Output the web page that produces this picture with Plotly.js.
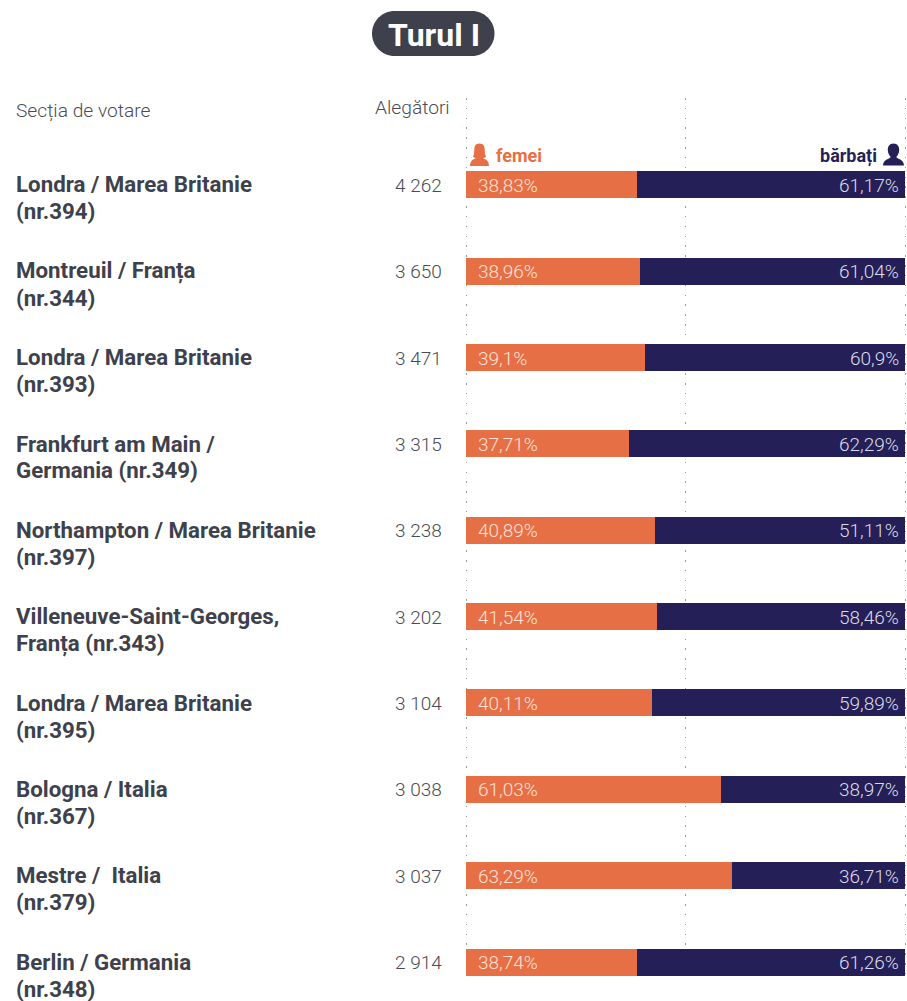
<!DOCTYPE html>
<html>
<head>
<meta charset="utf-8">
<script src="https://cdn.plot.ly/plotly-3.0.1.min.js"></script>
<style>html,body{margin:0;padding:0;background:#fff}#chart{width:907px;height:1001px}</style>
</head>
<body>
<div id="chart"></div>
<script>
const stationLine1 = [
  "Londra / Marea Britanie",
  "Montreuil / Franța",
  "Londra / Marea Britanie",
  "Frankfurt am Main /",
  "Northampton / Marea Britanie",
  "Villeneuve-Saint-Georges,",
  "Londra / Marea Britanie",
  "Bologna / Italia",
  "Mestre /  Italia",
  "Berlin / Germania"
];
const stationLine2 = ["(nr.394)","(nr.344)","(nr.393)","Germania (nr.349)","(nr.397)","Franța (nr.343)","(nr.395)","(nr.367)","(nr.379)","(nr.348)"];
const voters = ["4 262","3 650","3 471","3 315","3 238","3 202","3 104","3 038","3 037","2 914"];
const femeiLabels = ["38,83%","38,96%","39,1%","37,71%","40,89%","41,54%","40,11%","61,03%","63,29%","38,74%"];
const barbatiLabels = ["61,17%","61,04%","60,9%","62,29%","51,11%","58,46%","59,89%","38,97%","36,71%","61,26%"];
// bar lengths as drawn in the picture (they differ from the printed labels)
const femeiBars = [38.9,39.6,40.7,37.0,43.0,43.4,42.3,58.0,60.5,38.9];
const barbatiBars = [61.1,60.4,59.3,63.0,57.0,56.6,57.7,42.0,39.5,61.1];

const stations = stationLine1.map((a, i) => a + " " + stationLine2[i]);
const W = 907, H = 1001;
const ORANGE = "#e76f45", NAVY = "#241f57", INK = "#3e414c", SOFT = "#4a4c55";
const FONT = "Roboto, Arial, sans-serif";
const px = x => x / W, py = y => 1 - y / H;
const barLeft = 466.4, barRight = 905.4, plotTop = 98, plotBottom = 976;
const firstRow = 184.7, rowStep = 86.38;
const edgeL = 2, edgeR = 1.5;   // keeps the 0 and 100 gridlines inside the plot area
const unitsPerPx = 100 / (barRight - barLeft);

function pathOf(segs) {
  return segs.map(s => s[0] + s.slice(1).reduce((acc, v, i, a) => {
    if (i % 2) return acc;
    acc.push(px(v).toFixed(5) + "," + py(a[i + 1]).toFixed(5));
    return acc;
  }, []).join(" ")).join(" ");
}

const pill = (x0, y0, x1, y1) => {
  const r = (y1 - y0) / 2, k = r * 0.5523;
  return pathOf([
    ["M", x0 + r, y0], ["L", x1 - r, y0],
    ["C", x1 - r + k, y0, x1, y0 + r - k, x1, y0 + r],
    ["C", x1, y0 + r + k, x1 - r + k, y1, x1 - r, y1],
    ["L", x0 + r, y1],
    ["C", x0 + r - k, y1, x0, y0 + r + k, x0, y0 + r],
    ["C", x0, y0 + r - k, x0 + r - k, y0, x0 + r, y0], ["Z"]
  ]);
};

const womanIcon = pathOf([
  ["M", 479.5, 143.5],
  ["C", 475.5, 143.5, 474.3, 146.5, 474.3, 149.5],
  ["C", 474.3, 153, 474, 155, 472.8, 156.8],
  ["L", 475.8, 158.3],
  ["C", 473, 159.5, 470.3, 160.5, 470, 166],
  ["L", 489, 166],
  ["C", 488.7, 160.5, 486, 159.5, 483.2, 158.3],
  ["L", 486.2, 156.8],
  ["C", 485, 155, 484.7, 153, 484.7, 149.5],
  ["C", 484.7, 146.5, 483.5, 143.5, 479.5, 143.5], ["Z"]
]);
const manIcon = pathOf([
  ["M", 893.5, 143.5],
  ["C", 889.3, 143.5, 887.8, 146.5, 887.8, 150],
  ["C", 887.8, 153, 889.3, 155.5, 890.8, 157],
  ["C", 888, 159.8, 883.3, 159.5, 883, 165.5],
  ["L", 904, 165.5],
  ["C", 903.7, 159.5, 899, 159.8, 896.2, 157],
  ["C", 897.7, 155.5, 899.2, 153, 899.2, 150],
  ["C", 899.2, 146.5, 897.7, 143.5, 893.5, 143.5], ["Z"]
]);

const pageText = (text, x, y, size, color, xanchor, weight) => ({
  text, x: px(x), y: py(y), xref: "paper", yref: "paper", xanchor, yanchor: "middle",
  align: xanchor === "right" ? "right" : "left", showarrow: false, borderpad: 0,
  font: {family: FONT, size, color, weight}
});

const annotations = [
  pageText("Turul I", 434, 35.5, 32, "#ffffff", "center", 700),
  pageText("Secția de votare", 15, 110.5, 19.2, SOFT, "left", 300),
  pageText("Alegători", 451, 107, 19.2, SOFT, "right", 300),
  pageText("femei", 494.5, 155.5, 18, ORANGE, "left", 700),
  pageText("bărbați", 878, 155.5, 18, NAVY, "right", 700)
];
stationLine1.forEach((name, i) => {
  const c = firstRow + rowStep * i;
  annotations.push(pageText(name, 15, c - 0.3, 22.3, INK, "left", 700));
  annotations.push(pageText(stationLine2[i], 15, c + 26.6, 22.3, INK, "left", 700));
  annotations.push(pageText(voters[i], 443, c + 0.6, 19, SOFT, "right", 300));
  annotations.push({text: femeiLabels[i], x: 0, y: i, xref: "x", yref: "y", xanchor: "left", yanchor: "middle",
    xshift: 11, yshift: -0.6, showarrow: false, borderpad: 0, font: {family: FONT, size: 19, color: "#fbe2d8", weight: 300}});
  annotations.push({text: barbatiLabels[i], x: 100, y: i, xref: "x", yref: "y", xanchor: "right", yanchor: "middle",
    xshift: -5, yshift: -0.6, showarrow: false, borderpad: 0, font: {family: FONT, size: 19, color: "#dcdbe8", weight: 300}});
});

const traces = [
  {type: "bar", orientation: "h", name: "femei", y: stations, x: femeiBars, width: 27 / rowStep,
   marker: {color: ORANGE, line: {width: 0}}, hoverinfo: "skip"},
  {type: "bar", orientation: "h", name: "bărbați", y: stations, x: barbatiBars, width: 27 / rowStep,
   marker: {color: NAVY, line: {width: 0}}, hoverinfo: "skip"}
];

const layout = {
  width: W, height: H, margin: {l: 0, r: 0, t: 0, b: 0},
  paper_bgcolor: "#fff", plot_bgcolor: "#fff", showlegend: false, barmode: "stack",
  font: {family: FONT},
  xaxis: {domain: [px(barLeft - edgeL), px(barRight + edgeR)],
    range: [-edgeL * unitsPerPx, 100 + edgeR * unitsPerPx], tickmode: "array", tickvals: [0, 50, 100],
    showticklabels: false, ticks: "", zeroline: false, showline: false, showgrid: true,
    gridcolor: "#9a9aa4", gridwidth: 1, griddash: "1.5px,8.33px"},
  yaxis: {domain: [py(plotBottom), py(plotTop)], type: "category", categoryorder: "array", categoryarray: stations,
    range: [(plotBottom - firstRow) / rowStep, (plotTop - firstRow) / rowStep],
    showticklabels: false, ticks: "", zeroline: false, showline: false, showgrid: false},
  shapes: [
    {type: "path", xref: "paper", yref: "paper", path: pill(372, 11, 494.5, 56), fillcolor: INK, line: {width: 0}, layer: "below"},
    {type: "path", xref: "paper", yref: "paper", path: womanIcon, fillcolor: ORANGE, line: {width: 0}, layer: "above"},
    {type: "path", xref: "paper", yref: "paper", path: manIcon, fillcolor: NAVY, line: {width: 0}, layer: "above"}
  ],
  annotations
};

Plotly.newPlot("chart", traces, layout, {displayModeBar: false, staticPlot: true});
</script>
</body>
</html>
